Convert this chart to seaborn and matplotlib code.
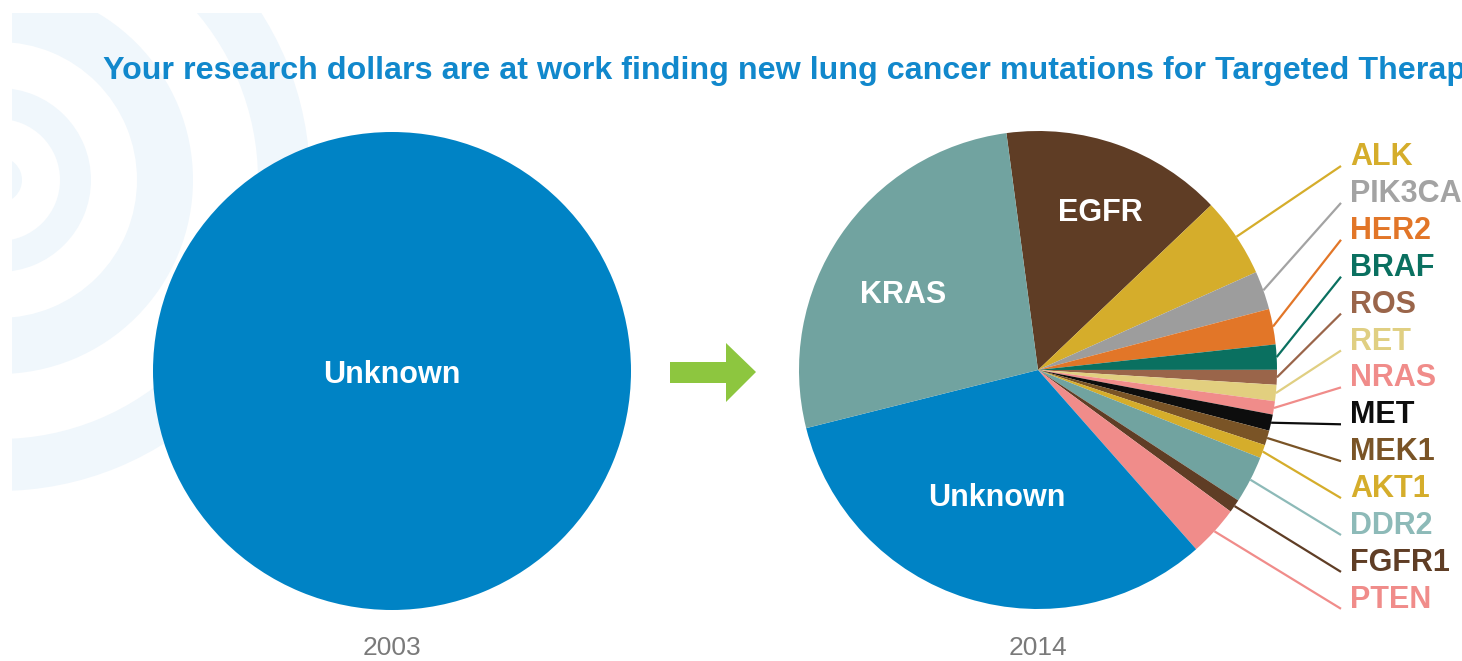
import numpy as np
import pandas as pd
import seaborn as sns
import matplotlib
matplotlib.use("Agg")
import matplotlib.pyplot as plt
from matplotlib.patches import Wedge, Rectangle, Polygon

# ---------------- data ----------------
title_text = "Your research dollars are at work finding new lung cancer mutations for Targeted Therapy"
years = ["2003", "2014"]

pie2003_labels = ["Unknown"]
pie2003_values = [100.0]

genes = ["EGFR", "ALK", "PIK3CA", "HER2", "BRAF", "ROS", "RET", "NRAS",
         "MET", "MEK1", "AKT1", "DDR2", "FGFR1", "PTEN", "Unknown", "KRAS"]
shares = [15.0, 5.4, 2.6, 2.4, 1.7, 1.0, 1.1, 0.9,
          1.1, 1.0, 0.9, 3.2, 0.9, 3.4, 32.6, 26.8]
gene_colors = ["#5f3d25", "#d5ad2b", "#9d9d9d", "#e27628", "#0a7060", "#9a654a",
               "#e2cf7f", "#f08c8a", "#0d0d0d", "#7a5426", "#d5ad2b", "#71a3a0",
               "#5f3d25", "#f08c8a", "#0083c5", "#71a3a0"]
side_labels = ["ALK", "PIK3CA", "HER2", "BRAF", "ROS", "RET", "NRAS",
               "MET", "MEK1", "AKT1", "DDR2", "FGFR1", "PTEN"]
side_label_colors = ["#d5ad2b", "#a3a3a3", "#e27628", "#0a7060", "#9a654a", "#e0cf82",
                     "#f08c8a", "#0d0d0d", "#7a5426", "#d5ad2b", "#8dbab8", "#5f3d25",
                     "#f08c8a"]
inside_labels = ["EGFR", "KRAS", "Unknown"]

df = pd.DataFrame({"gene": genes, "share": shares, "color": gene_colors})

# ---------------- style ----------------
sns.set_theme(style="white")
plt.rcParams["font.family"] = ["Liberation Sans", "DejaVu Sans"]

W, H = 1462, 661
fig = plt.figure(figsize=(W / 100, H / 100), dpi=100)
ax = fig.add_axes([0, 0, 1, 1])
ax.set_xlim(0, W)
ax.set_ylim(0, H)


def Y(p):
    return H - p


BLUE = "#0083c5"
LIGHT = "#f0f7fc"

# background concentric rings (clipped to a box with a small white margin)
bg_center = (-1, Y(180))
for r_in, r_out in [(0, 23), (61, 92), (138, 194), (259, 311)]:
    wd = Wedge(bg_center, r_out, 0, 360, width=r_out - r_in, facecolor=LIGHT,
               edgecolor="none", zorder=0)
    ax.add_patch(wd)
    clip = Rectangle((12, Y(495)), 500, 482, transform=ax.transData)
    wd.set_clip_path(clip)

# left pie (2003)
R = 239
c1 = (392, Y(371))
ax.pie(pie2003_values, colors=[BLUE], center=c1, radius=R, startangle=90,
       wedgeprops=dict(linewidth=0), frame=True)
ax.text(c1[0], Y(375), pie2003_labels[0], color="white", fontsize=22,
        fontweight="bold", ha="center", va="center", zorder=5)

# right pie (2014)
c2 = (1038, Y(370))
wedges, _ = ax.pie(df["share"], colors=df["color"], center=c2, radius=R,
                   startangle=97.6, counterclock=False,
                   wedgeprops=dict(linewidth=0), frame=True)

inside_pos = {"EGFR": (1100, 213), "KRAS": (903, 295), "Unknown": (997, 498)}
for name in inside_labels:
    x, y = inside_pos[name]
    ax.text(x, Y(y), name, color="white", fontsize=22, fontweight="bold",
            ha="center", va="center", zorder=5)

# side labels with leader lines
label_top, label_step = 157, 36.9
for i, (name, col) in enumerate(zip(side_labels, side_label_colors)):
    w = wedges[genes.index(name)]
    mid = np.deg2rad((w.theta1 + w.theta2) / 2)
    sx = c2[0] + R * np.cos(mid)
    sy = c2[1] + R * np.sin(mid)
    ly = label_top + i * label_step
    ax.plot([sx, 1341], [sy, Y(ly + 9)], color=col, lw=1.6,
            solid_capstyle="butt", zorder=4)
    ax.text(1350, Y(ly), name, color=col, fontsize=22, fontweight="bold",
            ha="left", va="center", zorder=5)

# arrow
arrow = Polygon([(670, Y(362)), (726, Y(362)), (726, Y(343)), (756, Y(372)),
                 (726, Y(402)), (726, Y(383)), (670, Y(383))],
                closed=True, facecolor="#8dc63f", edgecolor="none", zorder=3)
ax.add_patch(arrow)

# year labels
ax.text(c1[0], Y(648), years[0], color="#7a7a7a", fontsize=19,
        ha="center", va="center")
ax.text(c2[0], Y(648), years[1], color="#7a7a7a", fontsize=19,
        ha="center", va="center")

# title, sized so that "...Therap" reaches the right edge
probe = ax.text(103, Y(70), title_text[:-1], fontsize=22, fontweight="bold")
fig.canvas.draw()
bb = probe.get_window_extent()
probe.remove()
fs = 22 * (W - 103) / bb.width
ax.text(103, Y(71), title_text, fontsize=fs, fontweight="bold", color="#1188cc",
        ha="left", va="center", zorder=5)

ax.set_xlim(0, W)
ax.set_ylim(0, H)
ax.set_aspect("auto")
ax.axis("off")

fig.savefig("out.png", dpi=100, facecolor="white")
